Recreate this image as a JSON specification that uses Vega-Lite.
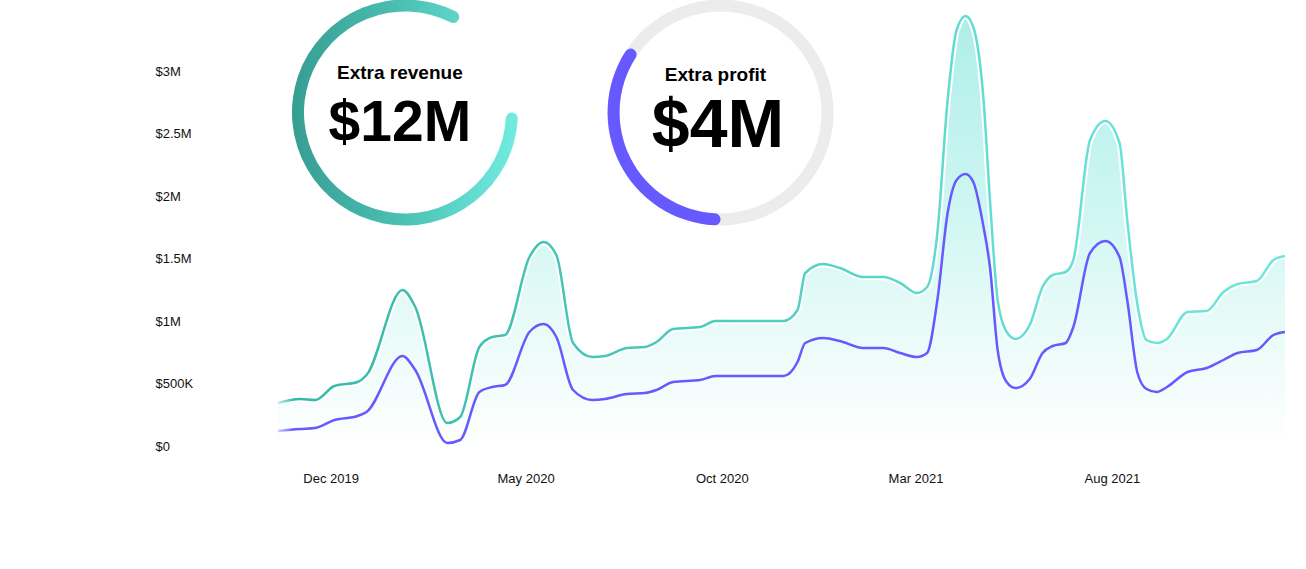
{
  "$schema": "https://vega.github.io/schema/vega-lite/v6.json",
  "width": 1007,
  "height": 375,
  "autosize": "none",
  "padding": {"left": 278, "top": 71, "right": 21, "bottom": 123},
  "background": "white",
  "config": {"view": {"stroke": null}},
  "datasets": {
    "series": [
      {"date": "2019-10-21", "revenue": 344000, "profit": 120000},
      {"date": "2019-11-07", "revenue": 376000, "profit": 136000},
      {"date": "2019-11-19", "revenue": 368000, "profit": 144000},
      {"date": "2019-12-04", "revenue": 480000, "profit": 208000},
      {"date": "2019-12-22", "revenue": 512000, "profit": 240000},
      {"date": "2019-12-29", "revenue": 568000, "profit": 272000},
      {"date": "2020-01-26", "revenue": 1248000, "profit": 720000},
      {"date": "2020-02-05", "revenue": 1112000, "profit": 608000},
      {"date": "2020-03-01", "revenue": 184000, "profit": 24000},
      {"date": "2020-03-11", "revenue": 232000, "profit": 48000},
      {"date": "2020-03-26", "revenue": 792000, "profit": 432000},
      {"date": "2020-04-05", "revenue": 872000, "profit": 472000},
      {"date": "2020-04-15", "revenue": 888000, "profit": 488000},
      {"date": "2020-05-04", "revenue": 1512000, "profit": 912000},
      {"date": "2020-05-15", "revenue": 1632000, "profit": 976000},
      {"date": "2020-05-25", "revenue": 1528000, "profit": 872000},
      {"date": "2020-06-07", "revenue": 824000, "profit": 448000},
      {"date": "2020-06-22", "revenue": 712000, "profit": 368000},
      {"date": "2020-07-02", "revenue": 720000, "profit": 376000},
      {"date": "2020-07-19", "revenue": 784000, "profit": 416000},
      {"date": "2020-08-02", "revenue": 792000, "profit": 424000},
      {"date": "2020-08-11", "revenue": 832000, "profit": 448000},
      {"date": "2020-08-24", "revenue": 936000, "profit": 512000},
      {"date": "2020-09-14", "revenue": 952000, "profit": 528000},
      {"date": "2020-09-26", "revenue": 1000000, "profit": 560000},
      {"date": "2020-11-18", "revenue": 1000000, "profit": 560000},
      {"date": "2020-11-29", "revenue": 1088000, "profit": 672000},
      {"date": "2020-12-05", "revenue": 1384000, "profit": 824000},
      {"date": "2020-12-19", "revenue": 1456000, "profit": 864000},
      {"date": "2021-01-01", "revenue": 1424000, "profit": 840000},
      {"date": "2021-01-19", "revenue": 1352000, "profit": 784000},
      {"date": "2021-02-04", "revenue": 1352000, "profit": 784000},
      {"date": "2021-02-17", "revenue": 1304000, "profit": 744000},
      {"date": "2021-03-02", "revenue": 1224000, "profit": 712000},
      {"date": "2021-03-10", "revenue": 1272000, "profit": 744000},
      {"date": "2021-03-18", "revenue": 1704000, "profit": 1168000},
      {"date": "2021-03-26", "revenue": 2768000, "profit": 1864000},
      {"date": "2021-04-02", "revenue": 3328000, "profit": 2128000},
      {"date": "2021-04-09", "revenue": 3440000, "profit": 2176000},
      {"date": "2021-04-15", "revenue": 3352000, "profit": 2112000},
      {"date": "2021-04-23", "revenue": 2768000, "profit": 1752000},
      {"date": "2021-04-28", "revenue": 1968000, "profit": 1432000},
      {"date": "2021-05-04", "revenue": 1168000, "profit": 768000},
      {"date": "2021-05-11", "revenue": 912000, "profit": 512000},
      {"date": "2021-05-18", "revenue": 856000, "profit": 464000},
      {"date": "2021-05-29", "revenue": 968000, "profit": 536000},
      {"date": "2021-06-08", "revenue": 1272000, "profit": 744000},
      {"date": "2021-06-16", "revenue": 1368000, "profit": 800000},
      {"date": "2021-06-26", "revenue": 1392000, "profit": 824000},
      {"date": "2021-07-02", "revenue": 1488000, "profit": 952000},
      {"date": "2021-07-15", "revenue": 2448000, "profit": 1544000},
      {"date": "2021-07-27", "revenue": 2600000, "profit": 1640000},
      {"date": "2021-08-07", "revenue": 2424000, "profit": 1512000},
      {"date": "2021-08-13", "revenue": 1808000, "profit": 1168000},
      {"date": "2021-08-21", "revenue": 1128000, "profit": 584000},
      {"date": "2021-08-28", "revenue": 848000, "profit": 456000},
      {"date": "2021-09-05", "revenue": 824000, "profit": 432000},
      {"date": "2021-09-13", "revenue": 856000, "profit": 472000},
      {"date": "2021-09-29", "revenue": 1072000, "profit": 592000},
      {"date": "2021-10-14", "revenue": 1080000, "profit": 624000},
      {"date": "2021-10-27", "revenue": 1232000, "profit": 688000},
      {"date": "2021-11-07", "revenue": 1296000, "profit": 744000},
      {"date": "2021-11-22", "revenue": 1320000, "profit": 768000},
      {"date": "2021-12-05", "revenue": 1488000, "profit": 888000},
      {"date": "2021-12-14", "revenue": 1520000, "profit": 912000}
    ],
    "rings": [
      {"kpi": "revenue", "part": "progress", "date": "2020-01-28", "value": 2668000, "start": 0.25, "end": 1.0833},
      {"kpi": "profit", "part": "track", "date": "2020-09-30", "value": 2668000, "start": 0, "end": 1},
      {"kpi": "profit", "part": "progress", "date": "2020-09-30", "value": 2668000, "start": 0.5, "end": 0.85}
    ],
    "kpis": [
      {"kpi": "revenue", "role": "caption", "text": "Extra revenue", "date": "2020-01-24", "value": 2936000},
      {"kpi": "revenue", "role": "figure", "text": "$12M", "date": "2020-01-24", "value": 2440000},
      {"kpi": "profit", "role": "caption", "text": "Extra profit", "date": "2020-09-26", "value": 2920000},
      {"kpi": "profit", "role": "figure", "text": "$4M", "date": "2020-09-28", "value": 2394000}
    ]
  },
  "encoding": {
    "x": {
      "field": "date",
      "type": "temporal",
      "title": null,
      "scale": {
        "type": "utc",
        "domain": [
          {"year": 2019, "month": 10, "date": 21, "utc": true},
          {"year": 2021, "month": 12, "date": 14, "utc": true}
        ]
      },
      "axis": {
        "values": [
          {"year": 2019, "month": 12, "date": 1, "utc": true},
          {"year": 2020, "month": 5, "date": 1, "utc": true},
          {"year": 2020, "month": 10, "date": 1, "utc": true},
          {"year": 2021, "month": 3, "date": 1, "utc": true},
          {"year": 2021, "month": 8, "date": 1, "utc": true}
        ],
        "labelExpr": "utcFormat(datum.value, '%b %Y')",
        "grid": false,
        "domain": false,
        "ticks": false,
        "tickSize": 0,
        "labelPadding": 26,
        "labelFlush": false,
        "labelOverlap": false,
        "labelFont": "Liberation Sans",
        "labelFontSize": 13,
        "labelColor": "#111111"
      }
    },
    "y": {
      "field": "value",
      "type": "quantitative",
      "title": null,
      "scale": {"domain": [0, 3000000], "nice": false},
      "axis": {
        "values": [0, 500000, 1000000, 1500000, 2000000, 2500000, 3000000],
        "labelExpr": "'$' + replace(format(datum.value, '~s'), 'k', 'K')",
        "grid": false,
        "domain": false,
        "ticks": false,
        "tickSize": 0,
        "labelAlign": "left",
        "labelPadding": 123,
        "labelFont": "Liberation Sans",
        "labelFontSize": 13,
        "labelColor": "#111111"
      }
    }
  },
  "layer": [
    {
      "data": {"name": "series"},
      "transform": [
        {"fold": ["revenue", "profit"], "as": ["series", "value"]},
        {"filter": "datum.series === 'revenue'"}
      ],
      "mark": {
        "type": "area",
        "interpolate": "monotone",
        "opacity": 1,
        "fill": {
          "gradient": "linear",
          "x1": 0, "y1": 0, "x2": 0, "y2": 1,
          "stops": [
            {"offset": 0, "color": "#aeeee8"},
            {"offset": 0.43, "color": "#cdf6f2"},
            {"offset": 0.66, "color": "#e3faf7"},
            {"offset": 0.88, "color": "#f5fdfc"},
            {"offset": 1, "color": "#ffffff"}
          ]
        }
      }
    },
    {
      "data": {"name": "series"},
      "transform": [
        {"fold": ["revenue", "profit"], "as": ["series", "value"]},
        {"filter": "datum.series === 'revenue'"}
      ],
      "mark": {"type": "line", "interpolate": "monotone", "color": "#ffffff", "strokeWidth": 6.5}
    },
    {
      "data": {"name": "series"},
      "transform": [
        {"fold": ["revenue", "profit"], "as": ["series", "value"]},
        {"filter": "datum.series === 'revenue'"}
      ],
      "mark": {
        "type": "line",
        "interpolate": "monotone",
        "strokeWidth": 2.5,
        "color": {
          "gradient": "linear",
          "x1": 0, "y1": 0, "x2": 1, "y2": 0,
          "stops": [
            {"offset": 0, "color": "#c5efe9"},
            {"offset": 0.015, "color": "#35b9a6"},
            {"offset": 0.45, "color": "#4dcdbe"},
            {"offset": 0.7, "color": "#62ddd2"},
            {"offset": 1, "color": "#70e7dd"}
          ]
        }
      }
    },
    {
      "data": {"name": "series"},
      "transform": [
        {"fold": ["revenue", "profit"], "as": ["series", "value"]},
        {"filter": "datum.series === 'profit'"}
      ],
      "mark": {
        "type": "line",
        "interpolate": "monotone",
        "strokeWidth": 2.5,
        "color": {
          "gradient": "linear",
          "x1": 0, "y1": 0, "x2": 1, "y2": 0,
          "stops": [
            {"offset": 0, "color": "#d3cfff"},
            {"offset": 0.015, "color": "#6659ff"},
            {"offset": 1, "color": "#6659ff"}
          ]
        }
      }
    },
    {
      "data": {"name": "rings"},
      "transform": [{"filter": "datum.part === 'track'"}],
      "mark": {"type": "arc", "radius": 113, "radius2": 101, "fill": "#ececec"},
      "encoding": {
        "theta": {"field": "start", "type": "quantitative", "stack": false, "scale": {"domain": [0, 1], "range": [0, 6.283185307179586]}},
        "theta2": {"field": "end"}
      }
    },
    {
      "data": {"name": "rings"},
      "transform": [{"filter": "datum.part === 'progress' && datum.kpi === 'revenue'"}],
      "mark": {
        "type": "arc",
        "radius": 113,
        "radius2": 101,
        "cornerRadius": 6,
        "fill": {
          "gradient": "linear",
          "x1": 0, "y1": 0, "x2": 1, "y2": 0,
          "stops": [
            {"offset": 0, "color": "#379d93"},
            {"offset": 0.5, "color": "#4cc1b4"},
            {"offset": 1, "color": "#72ece2"}
          ]
        }
      },
      "encoding": {
        "theta": {"field": "start", "type": "quantitative", "stack": false},
        "theta2": {"field": "end"}
      }
    },
    {
      "data": {"name": "rings"},
      "transform": [{"filter": "datum.part === 'progress' && datum.kpi === 'profit'"}],
      "mark": {"type": "arc", "radius": 113, "radius2": 101, "cornerRadius": 6, "fill": "#6659ff"},
      "encoding": {
        "theta": {"field": "start", "type": "quantitative", "stack": false},
        "theta2": {"field": "end"}
      }
    },
    {
      "data": {"name": "kpis"},
      "transform": [{"filter": "datum.role === 'caption'"}],
      "mark": {"type": "text", "align": "center", "baseline": "alphabetic", "font": "Liberation Sans", "fontWeight": "bold", "fontSize": 19, "color": "#000000"},
      "encoding": {"text": {"field": "text"}}
    },
    {
      "data": {"name": "kpis"},
      "transform": [{"filter": "datum.role === 'figure' && datum.kpi === 'revenue'"}],
      "mark": {"type": "text", "align": "center", "baseline": "alphabetic", "font": "Liberation Sans", "fontWeight": "bold", "fontSize": 57, "color": "#000000"},
      "encoding": {"text": {"field": "text"}}
    },
    {
      "data": {"name": "kpis"},
      "transform": [{"filter": "datum.role === 'figure' && datum.kpi === 'profit'"}],
      "mark": {"type": "text", "align": "center", "baseline": "alphabetic", "font": "Liberation Sans", "fontWeight": "bold", "fontSize": 68, "color": "#000000"},
      "encoding": {"text": {"field": "text"}}
    }
  ]
}
